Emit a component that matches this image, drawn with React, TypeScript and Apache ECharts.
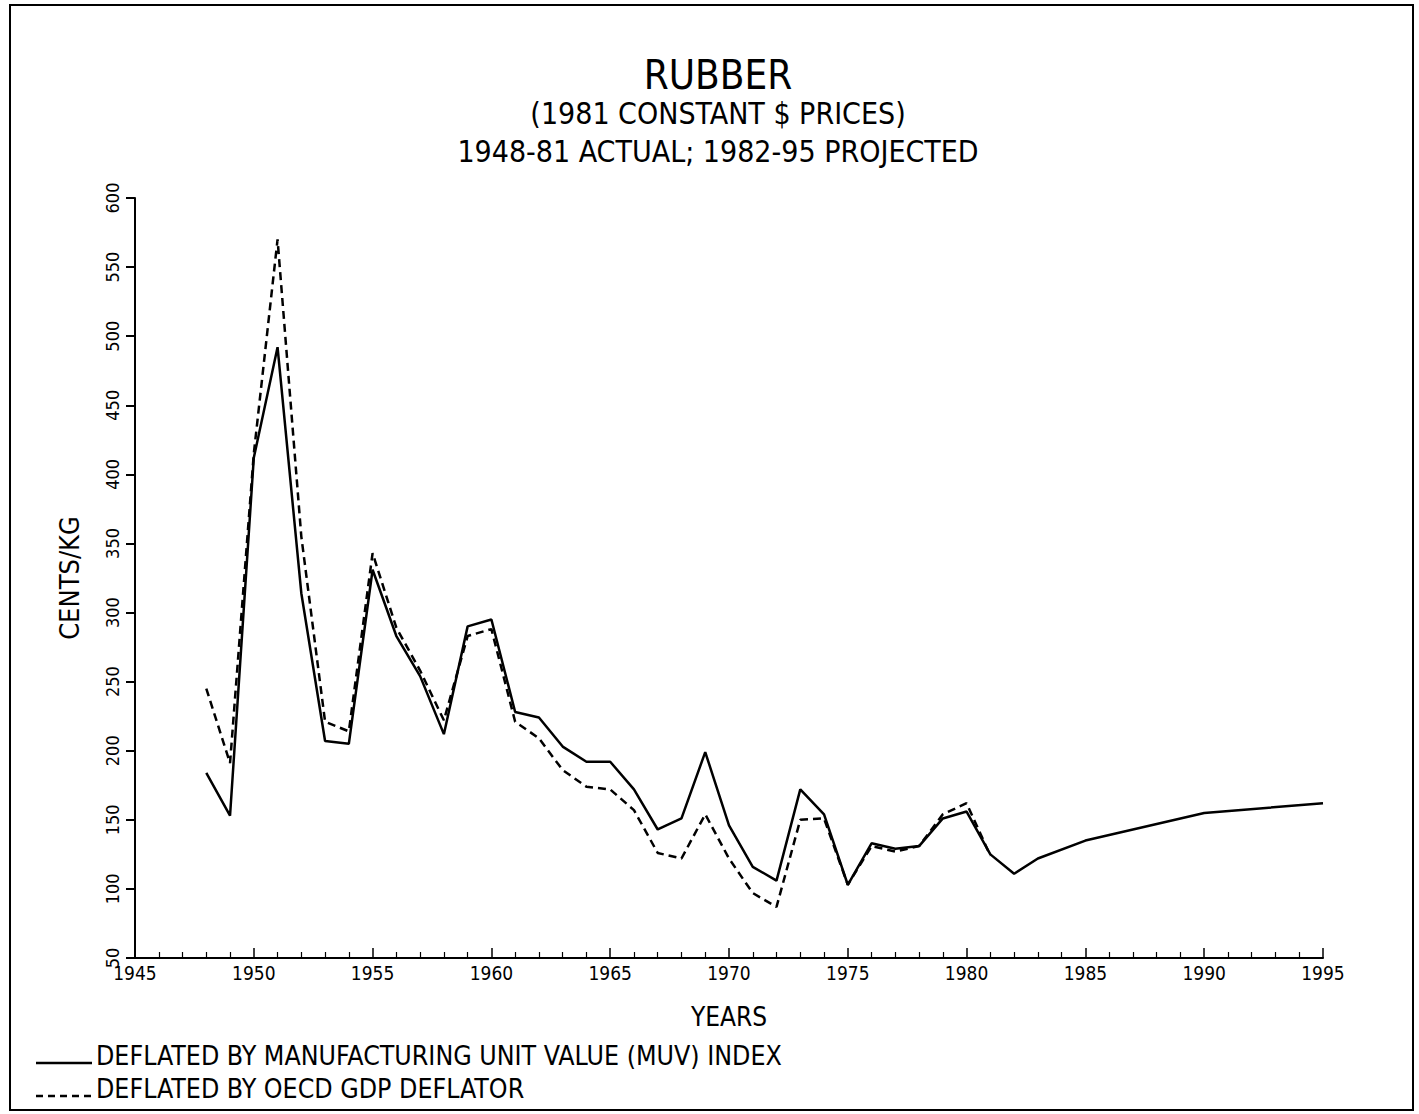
import React, { useEffect, useRef } from "react";
import * as echarts from "echarts";

// Actual years 1948-81, both deflators
const actualYears = [
  1948, 1949, 1950, 1951, 1952, 1953, 1954, 1955, 1956, 1957, 1958, 1959,
  1960, 1961, 1962, 1963, 1964, 1965, 1966, 1967, 1968, 1969, 1970, 1971,
  1972, 1973, 1974, 1975, 1976, 1977, 1978, 1979, 1980, 1981,
];
const muvActual = [
  184, 153, 412, 492, 314, 207, 205, 331, 283, 254, 212, 290,
  295, 228, 224, 203, 192, 192, 172, 143, 151, 199, 146, 116,
  106, 172, 154, 103, 133, 129, 131, 151, 156, 125,
];
const gdpActual = [
  245, 191, 415, 570, 355, 221, 214, 343, 289, 258, 222, 283,
  288, 221, 209, 186, 174, 172, 157, 126, 122, 154, 122, 97,
  87, 150, 151, 103, 131, 127, 131, 154, 162, 124,
];
// Projection 1982-95 (MUV basis)
const projYears = [1982, 1983, 1985, 1990, 1995];
const muvProj = [111, 122, 135, 155, 162];

const xTicks = { min: 1945, max: 1995, interval: 5 };
const yTicks = { min: 50, max: 600, interval: 50 };

const titleLines = [
  "RUBBER",
  "(1981 CONSTANT $ PRICES)",
  "1948-81 ACTUAL; 1982-95 PROJECTED",
];
const legendLabels = [
  "DEFLATED BY MANUFACTURING UNIT VALUE (MUV) INDEX",
  "DEFLATED BY OECD GDP DEFLATOR",
];

const FONT = "'Liberation Sans Narrow', 'DejaVu Sans Condensed', 'Roboto Condensed', 'Liberation Sans', sans-serif";
const INK = "#000";

export default function App() {
  const ref = useRef<HTMLDivElement>(null);

  useEffect(() => {
    document.body.style.margin = "0";
    if (!ref.current) return;
    const chart = echarts.init(ref.current, null, { renderer: "svg" });

    const muvData = actualYears
      .map((y, i) => [y, muvActual[i]])
      .concat(projYears.map((y, i) => [y, muvProj[i]]));
    const gdpData = actualYears.map((y, i) => [y, gdpActual[i]]);

    // Centred heading lines: [text, centre y, font size]
    const heading = [
      [titleLines[0], 75, 40],
      [titleLines[1], 113, 30],
      [titleLines[2], 151, 30],
    ] as const;

    chart.setOption({
      animation: false,
      backgroundColor: "#fff",
      grid: { left: 135, right: 96, top: 198, bottom: 156, containLabel: false },
      xAxis: {
        type: "value",
        min: xTicks.min,
        max: xTicks.max,
        interval: xTicks.interval,
        name: "YEARS",
        nameLocation: "middle",
        nameGap: 46,
        nameTextStyle: { fontFamily: FONT, fontSize: 26, color: INK },
        axisLine: { show: true, lineStyle: { color: INK, width: 2 } },
        axisTick: { show: true, inside: true, length: 10, lineStyle: { color: INK, width: 1.5 } },
        minorTick: { show: true, splitNumber: 5, length: 6, lineStyle: { color: INK, width: 1.2 } },
        axisLabel: {
          fontFamily: FONT,
          fontSize: 19,
          color: INK,
          margin: 5,
          formatter: (v: number) => String(v),
        },
        splitLine: { show: false },
        minorSplitLine: { show: false },
      },
      yAxis: {
        type: "value",
        min: yTicks.min,
        max: yTicks.max,
        interval: yTicks.interval,
        name: "CENTS/KG",
        nameLocation: "middle",
        nameGap: 52,
        nameRotate: 90,
        nameTextStyle: { fontFamily: FONT, fontSize: 27, color: INK },
        axisLine: { show: true, lineStyle: { color: INK, width: 2 } },
        axisTick: { show: true, inside: false, length: 9, lineStyle: { color: INK, width: 2 } },
        axisLabel: {
          fontFamily: FONT,
          fontSize: 18,
          color: INK,
          rotate: 90,
          margin: 14,
        },
        splitLine: { show: false },
      },
      series: [
        {
          type: "line",
          name: legendLabels[0],
          data: muvData,
          showSymbol: false,
          symbol: "none",
          lineStyle: { color: INK, width: 2.5, type: "solid" },
          z: 3,
        },
        {
          type: "line",
          name: legendLabels[1],
          data: gdpData,
          showSymbol: false,
          symbol: "none",
          lineStyle: { color: INK, width: 2.5, type: [8, 5] },
          z: 2,
        },
      ],
      graphic: [
        {
          type: "rect",
          shape: { x: 10, y: 5, width: 1403, height: 1105 },
          style: { fill: "none", stroke: INK, lineWidth: 2 },
          silent: true,
        },
        ...heading.map(([text, y, size]) => ({
          type: "text",
          x: 718,
          y,
          style: {
            text,
            fontFamily: FONT,
            fontSize: size,
            fill: INK,
            textAlign: "center",
            verticalAlign: "middle",
          },
        })),
        {
          type: "line",
          shape: { x1: 36, y1: 1063, x2: 92, y2: 1063 },
          style: { stroke: INK, lineWidth: 2.5 },
        },
        {
          type: "text",
          x: 96,
          y: 1055,
          style: {
            text: legendLabels[0],
            fontFamily: FONT,
            fontSize: 26.5,
            fill: INK,
            verticalAlign: "middle",
          },
        },
        {
          type: "line",
          shape: { x1: 36, y1: 1096, x2: 92, y2: 1096 },
          style: { stroke: INK, lineWidth: 2.5, lineDash: [7, 5] },
        },
        {
          type: "text",
          x: 96,
          y: 1088,
          style: {
            text: legendLabels[1],
            fontFamily: FONT,
            fontSize: 26.5,
            fill: INK,
            verticalAlign: "middle",
          },
        },
      ],
    });

    return () => chart.dispose();
  }, []);

  return <div ref={ref} style={{ width: 1419, height: 1114 }} />;
}
